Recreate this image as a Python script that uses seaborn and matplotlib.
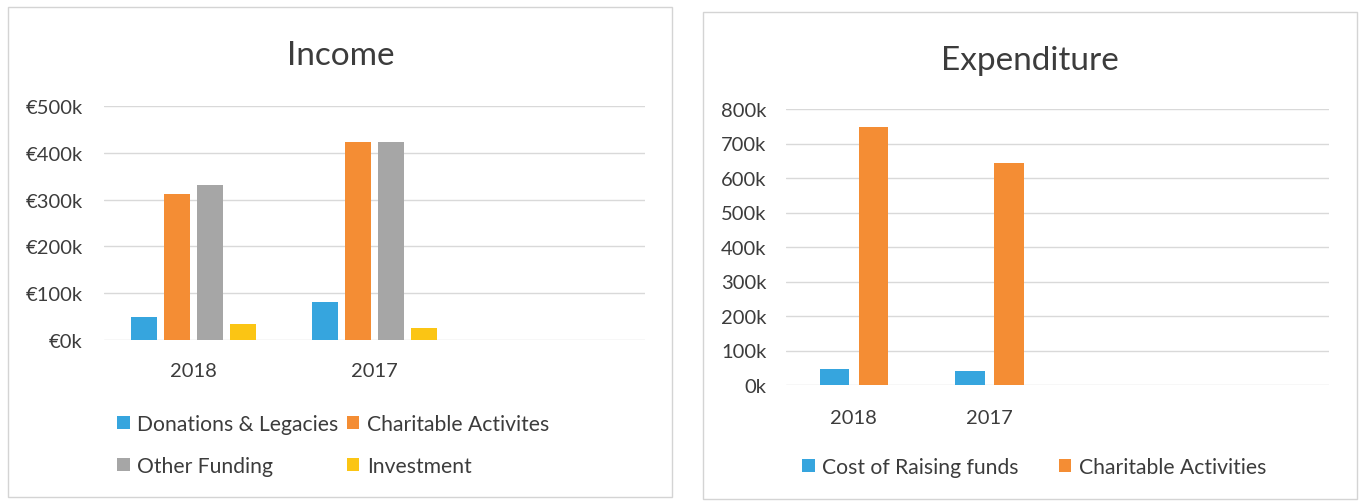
import matplotlib
matplotlib.use("Agg")
import matplotlib.pyplot as plt
from matplotlib.patches import Rectangle
from matplotlib.ticker import FuncFormatter
import seaborn as sns
import pandas as pd

# ---------------- data ----------------
income_years = ["2018", "2017"]
income_series = ["Donations & Legacies", "Charitable Activites", "Other Funding", "Investment"]
income_donations = [49000, 82000]
income_charitable = [313000, 424000]
income_other = [331000, 423000]
income_investment = [35000, 26000]
income_ticks = [0, 100000, 200000, 300000, 400000, 500000]

exp_years = ["2018", "2017"]
exp_series = ["Cost of Raising funds", "Charitable Activities"]
exp_cost = [46000, 42000]
exp_charitable = [749000, 643000]
exp_ticks = [0, 100000, 200000, 300000, 400000, 500000, 600000, 700000, 800000]

income_colors = ["#36A5DE", "#F48D34", "#A6A6A6", "#FBC514"]
exp_colors = ["#36A5DE", "#F48D34"]

# ---------------- frames ----------------
inc_df = pd.DataFrame({
    "year": income_years * 4,
    "series": sum([[s] * 2 for s in income_series], []),
    "value": income_donations + income_charitable + income_other + income_investment,
})
exp_df = pd.DataFrame({
    "year": exp_years * 2,
    "series": sum([[s] * 2 for s in exp_series], []),
    "value": exp_cost + exp_charitable,
})

sns.set_theme(style="white")
plt.rcParams["font.family"] = ["Lato", "DejaVu Sans"]
TXT = "#3c3c3c"

W, H = 1363, 502
fig = plt.figure(figsize=(W / 100, H / 100), dpi=100)
fig.patch.set_facecolor("white")

def fx(px):
    return px / W

def fy(py):
    return 1 - py / H

# panel borders
for (x0, y0, x1, y1) in [(8, 8, 672, 498), (703, 13, 1357, 500)]:
    fig.patches.append(Rectangle((fx(x0), fy(y1)), fx(x1) - fx(x0), fy(y0) - fy(y1),
                                 transform=fig.transFigure, fill=False,
                                 edgecolor="#d4d4d4", lw=1.0))

def style_axis(ax, ticks, fmt, ypad, xpad):
    for s in ax.spines.values():
        s.set_visible(False)
    ax.set_yticks(ticks)
    ax.yaxis.set_major_formatter(FuncFormatter(fmt))
    ax.yaxis.grid(True, color="#d9d9d9", lw=1.0)
    ax.set_axisbelow(True)
    ax.tick_params(axis="both", length=0, labelsize=14.5, labelcolor=TXT)
    ax.tick_params(axis="y", pad=ypad)
    ax.tick_params(axis="x", pad=xpad)
    ax.set_xlabel("")
    ax.set_ylabel("")

# ---------------- Income ----------------
ax1 = fig.add_axes([fx(103.5), fy(341), fx(645) - fx(103.5), fy(107) - fy(341)])
sns.barplot(data=inc_df, x="year", y="value", hue="series", order=income_years,
            hue_order=income_series, palette=income_colors, saturation=1,
            width=0.73, gap=0.22, linewidth=0, errorbar=None, ax=ax1)
ax1.set_ylim(0, 500000)
ax1.set_xlim(-0.5, 2.5)
style_axis(ax1, income_ticks, lambda v, p: f"€{int(v / 1000)}k", 15, 16)
h, l = ax1.get_legend_handles_labels()
ax1.get_legend().remove()
order = [0, 2, 1, 3]  # row-major layout in a 2-column legend
fig.legend([h[i] for i in order], [l[i] for i in order], loc="center left",
           bbox_to_anchor=(fx(117), fy(446)), ncol=2,
           frameon=False, fontsize=15.2, handlelength=0.6, handleheight=0.6,
           handletextpad=0.35, columnspacing=0.4, labelspacing=1.05,
           borderpad=0, borderaxespad=0, labelcolor=TXT)
fig.text(fx(341), fy(56), "Income", ha="center", va="center", fontsize=24, color=TXT)

# ---------------- Expenditure ----------------
ax2 = fig.add_axes([fx(786), fy(386), fx(1329) - fx(786), fy(110) - fy(386)])
sns.barplot(data=exp_df, x="year", y="value", hue="series", order=exp_years,
            hue_order=exp_series, palette=exp_colors, saturation=1,
            width=0.575, gap=0.24, linewidth=0, errorbar=None, ax=ax2)
ax2.set_ylim(0, 800000)
ax2.set_xlim(-0.5, 3.5)
style_axis(ax2, exp_ticks, lambda v, p: f"{int(v / 1000)}k", 14, 17)
h, l = ax2.get_legend_handles_labels()
ax2.get_legend().remove()
fig.legend(h, l, loc="center left", bbox_to_anchor=(fx(802), fy(468)), ncol=2,
           frameon=False, fontsize=15.2, handlelength=0.6, handleheight=0.6,
           handletextpad=0.35, columnspacing=1.9,
           borderpad=0, borderaxespad=0, labelcolor=TXT)
fig.text(fx(1030), fy(61), "Expenditure", ha="center", va="center", fontsize=24, color=TXT)

fig.savefig("out.png", dpi=100, facecolor="white")
